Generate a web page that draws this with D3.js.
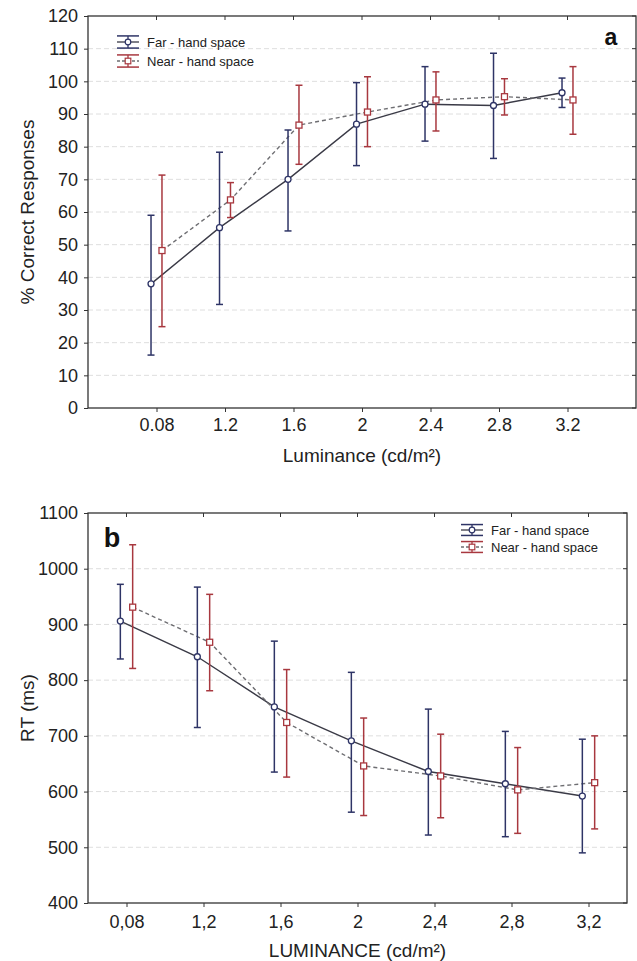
<!DOCTYPE html>
<html>
<head>
<meta charset="utf-8">
<script src="https://cdn.jsdelivr.net/npm/d3@7/dist/d3.min.js"></script>
<style>
  html, body { margin: 0; padding: 0; background: #fff; }
  svg { display: block; font-family: "Liberation Sans", Arial, sans-serif; }
</style>
</head>
<body>
<svg id="chart" width="637" height="961"></svg>
<script>
// Panel a: accuracy by luminance
const accCategories = ["0.08", "1.2", "1.6", "2", "2.4", "2.8", "3.2"];
const accFarMean  = [38, 55.2, 70, 86.9, 93, 92.6, 96.5];
const accFarHigh  = [59, 78.3, 85.1, 99.6, 104.5, 108.6, 101];
const accFarLow   = [16.2, 31.7, 54.2, 74.2, 81.7, 76.4, 92];
const accNearMean = [48.2, 63.7, 86.6, 90.6, 94.3, 95.3, 94.3];
const accNearHigh = [71.3, 69, 98.8, 101.4, 102.9, 100.8, 104.5];
const accNearLow  = [24.9, 58.3, 74.6, 80, 84.8, 89.7, 83.8];
const accTicks = [0, 10, 20, 30, 40, 50, 60, 70, 80, 90, 100, 110, 120];

// Panel b: reaction time by luminance
const rtCategories = ["0,08", "1,2", "1,6", "2", "2,4", "2,8", "3,2"];
const rtFarMean  = [906, 842, 752, 691, 636, 614, 592];
const rtFarHigh  = [972, 967, 870, 814, 748, 708, 694];
const rtFarLow   = [838, 715, 635, 563, 522, 519, 490];
const rtNearMean = [931, 868, 724, 646, 628, 603, 616];
const rtNearHigh = [1043, 954, 819, 732, 703, 679, 700];
const rtNearLow  = [821, 781, 626, 557, 553, 525, 533];
const rtTicks = [400, 500, 600, 700, 800, 900, 1000, 1100];

const seriesNames = ["Far - hand space", "Near - hand space"];

const FAR = "#2e3466";
const NEAR = "#a8383f";
const LINE_FAR = "#3a3a46";
const LINE_NEAR = "#6e6e72";
const AXIS = "#333";

const svg = d3.select("#chart");

function panel(opt) {
  const g = svg.append("g");
  const x = d3.scalePoint().domain(opt.cats).range([opt.left, opt.right]).padding(opt.pad);
  const y = d3.scaleLinear().domain(opt.yDomain).range([opt.bottom, opt.top]);
  const off = x.step() * 0.08;

  // dashed grid
  g.append("g").selectAll("line").data(opt.ticks.slice(1, -1)).join("line")
    .attr("x1", opt.left).attr("x2", opt.right)
    .attr("y1", d => y(d)).attr("y2", d => y(d))
    .attr("stroke", "#dedede").attr("stroke-width", 1).attr("stroke-dasharray", "5,3");

  // axes
  const yAxis = d3.axisLeft(y).tickValues(opt.ticks).tickFormat(d3.format("d"))
    .tickSize(4).tickSizeOuter(0).tickPadding(6);
  const xAxis = d3.axisBottom(x).tickSize(4).tickSizeOuter(0).tickPadding(opt.xPad);
  const ya = g.append("g").attr("transform", `translate(${opt.left},0)`).call(yAxis);
  const xa = g.append("g").attr("transform", `translate(0,${opt.bottom})`).call(xAxis);
  [ya, xa].forEach(a => {
    a.select(".domain").remove();
    a.selectAll("line").attr("stroke", AXIS);
    a.selectAll("text").attr("fill", "#222").style("font-size", opt.tickFont + "px");
  });
  // inward ticks on top and right edges
  g.append("g").selectAll("line").data(opt.cats).join("line")
    .attr("x1", d => x(d)).attr("x2", d => x(d))
    .attr("y1", opt.top).attr("y2", opt.top + 4).attr("stroke", AXIS);
  g.append("g").selectAll("line").data(opt.ticks).join("line")
    .attr("x1", opt.right).attr("x2", opt.right - 4)
    .attr("y1", d => y(d)).attr("y2", d => y(d)).attr("stroke", AXIS);
  // frame
  g.append("rect").attr("x", opt.left).attr("y", opt.top)
    .attr("width", opt.right - opt.left).attr("height", opt.bottom - opt.top)
    .attr("fill", "none").attr("stroke", AXIS).attr("stroke-width", 1.3);

  const series = [
    { mean: opt.farMean, hi: opt.farHigh, lo: opt.farLow, dx: -off, color: FAR, line: LINE_FAR, dash: null, shape: "circle" },
    { mean: opt.nearMean, hi: opt.nearHigh, lo: opt.nearLow, dx: off, color: NEAR, line: LINE_NEAR, dash: "4,3", shape: "square" }
  ];

  // connecting lines
  series.forEach(s => {
    const line = d3.line().x((d, i) => x(opt.cats[i]) + s.dx).y(d => y(d));
    g.append("path").datum(s.mean).attr("d", line)
      .attr("fill", "none").attr("stroke", s.line).attr("stroke-width", 1.4)
      .attr("stroke-dasharray", s.dash);
  });

  // error bars and markers
  series.forEach(s => {
    const eb = g.append("g");
    opt.cats.forEach((c, i) => {
      const cx = x(c) + s.dx;
      eb.append("line").attr("x1", cx).attr("x2", cx).attr("y1", y(s.hi[i])).attr("y2", y(s.lo[i]))
        .attr("stroke", s.color).attr("stroke-width", 1.5);
      [s.hi[i], s.lo[i]].forEach(v => {
        eb.append("line").attr("x1", cx - 3.5).attr("x2", cx + 3.5).attr("y1", y(v)).attr("y2", y(v))
          .attr("stroke", s.color).attr("stroke-width", 1.5);
      });
    });
    opt.cats.forEach((c, i) => {
      const cx = x(c) + s.dx, cy = y(s.mean[i]);
      if (s.shape === "circle") {
        eb.append("circle").attr("cx", cx).attr("cy", cy).attr("r", 3)
          .attr("fill", "#fff").attr("stroke", s.color).attr("stroke-width", 1.3);
      } else {
        eb.append("rect").attr("x", cx - 3).attr("y", cy - 3).attr("width", 6).attr("height", 6)
          .attr("fill", "#fff").attr("stroke", s.color).attr("stroke-width", 1.3);
      }
    });
  });

  // legend
  const lg = g.append("g");
  series.forEach((s, k) => {
    const cy = opt.legendY + k * opt.legendGap;
    const sx = opt.legendX, w = 22, mid = sx + w / 2;
    const h = opt.legendGap * 0.32;
    lg.append("line").attr("x1", sx).attr("x2", sx + w).attr("y1", cy - h).attr("y2", cy - h)
      .attr("stroke", s.color).attr("stroke-width", 1.5);
    lg.append("line").attr("x1", sx).attr("x2", sx + w).attr("y1", cy + h).attr("y2", cy + h)
      .attr("stroke", s.color).attr("stroke-width", 1.5);
    lg.append("line").attr("x1", mid).attr("x2", mid).attr("y1", cy - h).attr("y2", cy + h)
      .attr("stroke", s.color).attr("stroke-width", 1.3);
    lg.append("line").attr("x1", sx).attr("x2", sx + w).attr("y1", cy).attr("y2", cy)
      .attr("stroke", s.line).attr("stroke-width", 1.3).attr("stroke-dasharray", s.dash ? "3,2" : null);
    if (s.shape === "circle") {
      lg.append("circle").attr("cx", mid).attr("cy", cy).attr("r", 2.8)
        .attr("fill", "#fff").attr("stroke", s.color).attr("stroke-width", 1.2);
    } else {
      lg.append("rect").attr("x", mid - 2.8).attr("y", cy - 2.8).attr("width", 5.6).attr("height", 5.6)
        .attr("fill", "#fff").attr("stroke", s.color).attr("stroke-width", 1.2);
    }
    lg.append("text").attr("x", sx + w + 8).attr("y", cy).attr("dy", "0.35em")
      .style("font-size", opt.legendFont + "px").attr("fill", "#222").text(seriesNames[k]);
  });

  // panel letter
  g.append("text").attr("x", opt.letterX).attr("y", opt.letterY)
    .style("font-size", opt.letterFont + "px").style("font-weight", "bold").attr("fill", "#111")
    .attr("text-anchor", "middle").text(opt.letter);

  // axis titles
  g.append("text").attr("x", (opt.left + opt.right) / 2).attr("y", opt.xTitleY)
    .attr("text-anchor", "middle").style("font-size", opt.titleFont + "px").attr("fill", "#222")
    .text(opt.xTitle);
  g.append("text").attr("transform", `translate(${opt.yTitleX},${(opt.top + opt.bottom) / 2}) rotate(-90)`)
    .attr("text-anchor", "middle").attr("dy", "0.35em").style("font-size", opt.titleFont + "px").attr("fill", "#222")
    .text(opt.yTitle);
}

panel({
  cats: accCategories, pad: 1, left: 88, right: 636, top: 16, bottom: 408,
  yDomain: [0, 120], ticks: accTicks,
  farMean: accFarMean, farHigh: accFarHigh, farLow: accFarLow,
  nearMean: accNearMean, nearHigh: accNearHigh, nearLow: accNearLow,
  tickFont: 18, xPad: 6.5, legendFont: 13, legendX: 117, legendY: 42, legendGap: 19,
  letter: "a", letterX: 611, letterY: 45, letterFont: 23,
  xTitle: "Luminance (cd/m²)", xTitleY: 462, yTitle: "% Correct Responses", yTitleX: 27, titleFont: 19
});

panel({
  cats: rtCategories, pad: 0.5, left: 88, right: 627, top: 513, bottom: 903,
  yDomain: [400, 1100], ticks: rtTicks,
  farMean: rtFarMean, farHigh: rtFarHigh, farLow: rtFarLow,
  nearMean: rtNearMean, nearHigh: rtNearHigh, nearLow: rtNearLow,
  tickFont: 18, xPad: 8, legendFont: 13, legendX: 461, legendY: 530, legendGap: 17,
  letter: "b", letterX: 112, letterY: 547, letterFont: 27,
  xTitle: "LUMINANCE (cd/m²)", xTitleY: 957, yTitle: "RT (ms)", yTitleX: 27, titleFont: 19
});
</script>
</body>
</html>
